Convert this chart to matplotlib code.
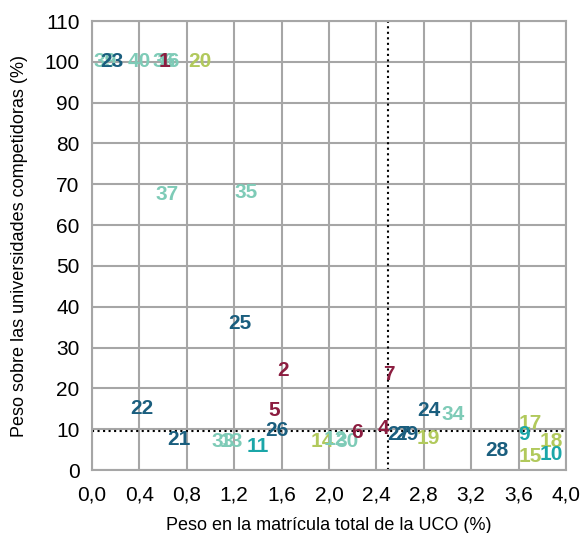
import matplotlib
matplotlib.use("Agg")
import matplotlib.pyplot as plt
from matplotlib.ticker import FuncFormatter

plt.rcParams['font.family'] = ['Liberation Sans', 'DejaVu Sans']

# etiquetas de cada titulación, posición (peso UCO, peso competidoras) y grupo
labels = ["39", "23", "40", "36", "16", "1", "20",
          "37", "35", "25", "2", "7", "22", "5", "26", "21",
          "33", "13", "11", "14", "12", "30", "6", "4", "27", "29",
          "19", "24", "34", "28", "17", "9", "18", "15", "10"]
peso_uco = [0.11, 0.17, 0.40, 0.61, 0.645, 0.61, 0.91,
            0.63, 1.30, 1.25, 1.61, 2.51, 0.42, 1.54, 1.56, 0.73,
            1.11, 1.18, 1.40, 1.94, 2.05, 2.15, 2.24, 2.46, 2.59, 2.66,
            2.84, 2.84, 3.05, 3.42, 3.70, 3.65, 3.88, 3.70, 3.88]
peso_comp = [100, 100, 100, 100, 100, 100, 100,
             67.4, 68.1, 35.8, 24.5, 23.3, 15.2, 14.5, 9.6, 7.4,
             6.9, 6.9, 5.9, 7.1, 7.4, 6.9, 9.3, 10.3, 8.8, 8.8,
             7.8, 14.5, 13.5, 4.7, 11.5, 8.8, 6.9, 3.4, 3.9]
grupo = ["c", "a", "c", "c", "c", "r", "o",
         "c", "c", "a", "r", "r", "a", "r", "a", "a",
         "c", "c", "t", "o", "c", "c", "r", "r", "a", "a",
         "o", "a", "c", "a", "o", "t", "o", "o", "t"]

colores = {"a": "#1A5E7E", "c": "#7ECBB7", "r": "#8C1D40",
           "o": "#B1C95C", "t": "#1BA6A8"}

media_uco = 2.5
media_comp = 9.5

fig = plt.figure(figsize=(5.84, 5.33), dpi=100)
ax = fig.add_axes([0.1575, 0.118, 0.8115, 0.8426])

for lab, x, y, g in zip(labels, peso_uco, peso_comp, grupo):
    ax.text(x, y, lab, color=colores[g], fontsize=15, fontweight='bold',
            ha='center', va='center', zorder=3)

ax.axvline(media_uco, color='black', linestyle=':', linewidth=1.5, zorder=2)
ax.axhline(media_comp, color='black', linestyle=':', linewidth=1.5, zorder=2)

ax.set_xlim(0, 4.0)
ax.set_ylim(0, 110)
ax.set_xticks([i * 0.4 for i in range(11)])
ax.set_yticks(range(0, 111, 10))
ax.xaxis.set_major_formatter(FuncFormatter(lambda v, p: f"{v:.1f}".replace('.', ',')))
ax.grid(True, color='#A6A6A6', linewidth=1.5, zorder=0)
ax.set_axisbelow(True)
for s in ax.spines.values():
    s.set_color('#A6A6A6')
    s.set_linewidth(1.5)
ax.tick_params(axis='y', length=0, labelsize=15, pad=9)
ax.tick_params(axis='x', length=0, labelsize=15, pad=11)

ax.set_xlabel("Peso en la matrícula total de la UCO (%)", fontsize=13, labelpad=9)
ax.set_ylabel("Peso sobre las universidades competidoras (%)", fontsize=13, labelpad=12)

fig.savefig("out.png", dpi=100)
